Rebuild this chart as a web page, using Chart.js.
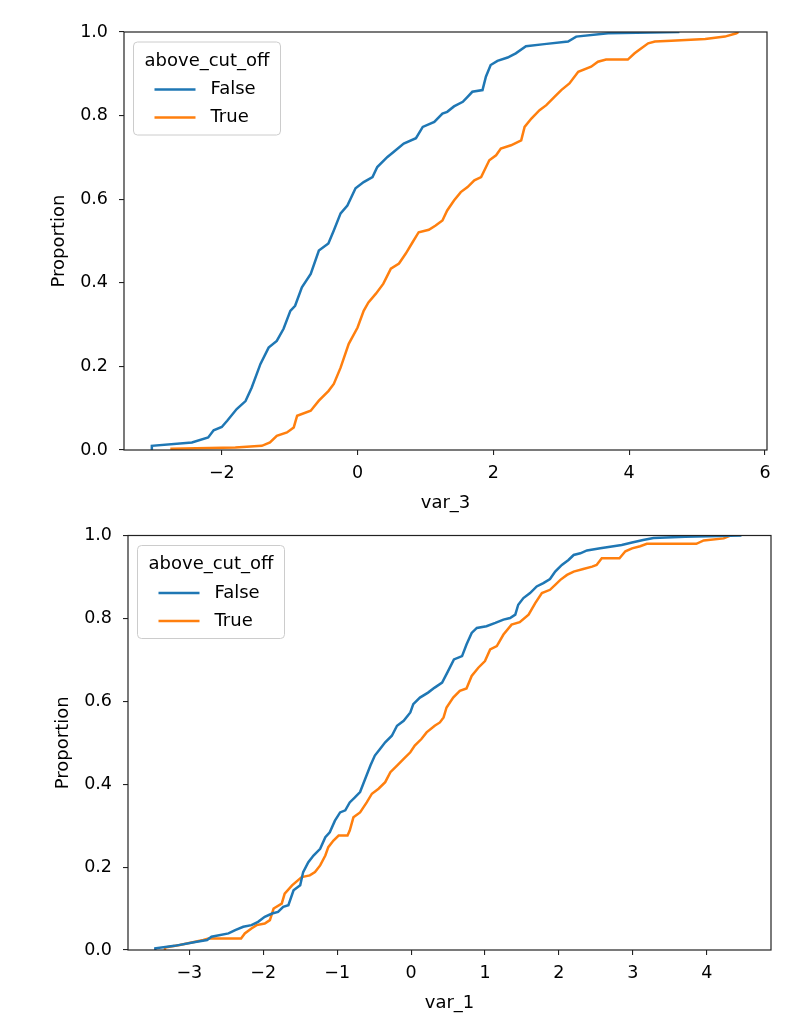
<!DOCTYPE html>
<html>
<head>
<meta charset="utf-8">
<script src="https://cdn.jsdelivr.net/npm/chart.js@4"></script>
<style>
  html, body { margin: 0; padding: 0; background: #fff; }
  #wrap { position: relative; width: 812px; height: 1020px; }
  canvas { position: absolute; left: 0; }
  #ecdfTop { top: 0; }
  #ecdfBottom { top: 514px; }
</style>
</head>
<body>
<div id="wrap">
  <canvas id="ecdfTop" width="812" height="514"></canvas>
  <canvas id="ecdfBottom" width="812" height="500"></canvas>
</div>
<script>
const hueTitle = 'above_cut_off';
const hueLabels = ['False', 'True'];
const yTicks = [0, 0.2, 0.4, 0.6, 0.8, 1.0];

// var_3 (top panel)
const var3Ticks = [-2, 0, 2, 4, 6];
const var3FalseX = [-3.03, -3.03, -2.44, -2.20, -2.12, -2.00, -1.92, -1.78, -1.65, -1.56, -1.43, -1.31, -1.19, -1.09, -0.99, -0.92, -0.82, -0.69, -0.57, -0.43, -0.35, -0.25, -0.15, -0.03, 0.09, 0.22, 0.29, 0.44, 0.53, 0.68, 0.86, 0.96, 1.13, 1.25, 1.32, 1.42, 1.55, 1.62, 1.69, 1.84, 1.89, 1.96, 2.06, 2.21, 2.33, 2.48, 2.75, 3.10, 3.22, 3.69, 4.74];
const var3FalseY = [0, 0.010, 0.018, 0.030, 0.047, 0.055, 0.070, 0.098, 0.117, 0.149, 0.206, 0.245, 0.261, 0.290, 0.333, 0.345, 0.389, 0.421, 0.477, 0.494, 0.525, 0.566, 0.585, 0.626, 0.641, 0.653, 0.677, 0.701, 0.713, 0.733, 0.746, 0.773, 0.785, 0.805, 0.809, 0.822, 0.833, 0.845, 0.857, 0.861, 0.893, 0.921, 0.931, 0.939, 0.949, 0.966, 0.971, 0.977, 0.989, 0.997, 1.0];
const var3TrueX = [-2.74, -2.74, -1.80, -1.41, -1.29, -1.19, -1.04, -0.94, -0.89, -0.69, -0.57, -0.43, -0.35, -0.25, -0.13, 0.00, 0.09, 0.16, 0.27, 0.38, 0.49, 0.61, 0.71, 0.81, 0.90, 1.05, 1.15, 1.25, 1.32, 1.42, 1.52, 1.62, 1.72, 1.82, 1.94, 2.04, 2.11, 2.26, 2.41, 2.46, 2.56, 2.68, 2.78, 2.90, 3.00, 3.12, 3.25, 3.44, 3.54, 3.66, 3.98, 4.08, 4.18, 4.28, 4.38, 4.62, 5.12, 5.41, 5.58, 5.61];
const var3TrueY = [0, 0.003, 0.006, 0.010, 0.018, 0.034, 0.042, 0.054, 0.082, 0.094, 0.118, 0.141, 0.158, 0.197, 0.254, 0.293, 0.333, 0.353, 0.374, 0.398, 0.434, 0.446, 0.470, 0.497, 0.521, 0.527, 0.537, 0.549, 0.573, 0.597, 0.617, 0.629, 0.645, 0.653, 0.693, 0.705, 0.721, 0.729, 0.741, 0.773, 0.793, 0.813, 0.825, 0.845, 0.861, 0.877, 0.905, 0.917, 0.929, 0.934, 0.934, 0.949, 0.961, 0.973, 0.977, 0.979, 0.983, 0.989, 0.997, 1.0];

// var_1 (bottom panel)
const var1Ticks = [-3, -2, -1, 0, 1, 2, 3, 4];
const var1FalseX = [-3.46, -3.46, -3.20, -2.90, -2.76, -2.70, -2.47, -2.38, -2.27, -2.16, -2.07, -1.98, -1.88, -1.80, -1.73, -1.66, -1.59, -1.50, -1.46, -1.39, -1.32, -1.23, -1.16, -1.10, -1.03, -0.96, -0.89, -0.83, -0.76, -0.69, -0.62, -0.55, -0.49, -0.42, -0.35, -0.26, -0.19, -0.10, -0.01, 0.03, 0.12, 0.23, 0.32, 0.42, 0.49, 0.58, 0.69, 0.75, 0.82, 0.89, 1.02, 1.14, 1.25, 1.34, 1.41, 1.45, 1.52, 1.61, 1.70, 1.79, 1.88, 1.95, 2.04, 2.13, 2.20, 2.29, 2.38, 2.56, 2.85, 2.99, 3.14, 3.28, 3.71, 4.47];
const var1FalseY = [0, 0.004, 0.010, 0.020, 0.024, 0.032, 0.040, 0.048, 0.056, 0.060, 0.068, 0.080, 0.088, 0.092, 0.104, 0.108, 0.144, 0.156, 0.188, 0.212, 0.228, 0.244, 0.272, 0.284, 0.312, 0.332, 0.337, 0.356, 0.368, 0.381, 0.413, 0.445, 0.469, 0.485, 0.501, 0.517, 0.541, 0.553, 0.573, 0.593, 0.609, 0.621, 0.633, 0.645, 0.669, 0.701, 0.709, 0.737, 0.765, 0.777, 0.781, 0.789, 0.797, 0.801, 0.809, 0.833, 0.849, 0.861, 0.877, 0.885, 0.895, 0.913, 0.929, 0.941, 0.953, 0.957, 0.964, 0.969, 0.977, 0.983, 0.989, 0.994, 0.997, 1.0];
const var1TrueX = [-3.33, -3.33, -3.13, -2.81, -2.74, -2.30, -2.25, -2.16, -2.09, -1.98, -1.91, -1.86, -1.75, -1.71, -1.61, -1.48, -1.37, -1.30, -1.23, -1.16, -1.12, -1.05, -0.98, -0.86, -0.83, -0.78, -0.69, -0.60, -0.53, -0.44, -0.35, -0.28, -0.19, -0.10, -0.01, 0.05, 0.14, 0.21, 0.32, 0.39, 0.44, 0.48, 0.57, 0.66, 0.75, 0.82, 0.91, 1.00, 1.07, 1.16, 1.25, 1.36, 1.47, 1.59, 1.68, 1.77, 1.88, 1.95, 2.02, 2.11, 2.20, 2.33, 2.45, 2.51, 2.58, 2.82, 2.90, 2.99, 3.10, 3.19, 3.86, 3.96, 4.23, 4.32];
const var1TrueY = [0, 0.006, 0.012, 0.024, 0.028, 0.028, 0.040, 0.052, 0.060, 0.064, 0.072, 0.100, 0.112, 0.136, 0.156, 0.176, 0.180, 0.188, 0.204, 0.228, 0.248, 0.264, 0.276, 0.276, 0.288, 0.320, 0.332, 0.356, 0.377, 0.389, 0.405, 0.429, 0.445, 0.461, 0.477, 0.493, 0.509, 0.525, 0.541, 0.549, 0.561, 0.585, 0.609, 0.625, 0.631, 0.661, 0.681, 0.697, 0.725, 0.733, 0.761, 0.785, 0.791, 0.809, 0.837, 0.861, 0.869, 0.881, 0.893, 0.905, 0.913, 0.919, 0.925, 0.929, 0.945, 0.945, 0.962, 0.969, 0.974, 0.980, 0.980, 0.988, 0.993, 1.0];

const colors = ['#1f77b4', '#ff7f0e'];

Chart.defaults.font.family = '"DejaVu Sans", sans-serif';
Chart.defaults.color = '#000';

// spines on all four sides + matplotlib-style legend inside the axes
const axesDecor = {
  id: 'axesDecor',
  afterDatasetsDraw(chart) {
    const { ctx, chartArea: a } = chart;
    ctx.save();
    ctx.strokeStyle = '#222';
    ctx.lineWidth = 1.2;
    ctx.strokeRect(a.left, a.top, a.right - a.left, a.bottom - a.top);
    ctx.restore();
  },
  afterDraw(chart) {
    const { ctx, chartArea: a } = chart;
    const bx = a.left + 9.5, by = a.top + 10, bw = 147, bh = 93;
    ctx.save();
    ctx.beginPath();
    ctx.roundRect(bx, by, bw, bh, 4);
    ctx.fillStyle = 'rgba(255,255,255,0.8)';
    ctx.fill();
    ctx.strokeStyle = '#cccccc';
    ctx.lineWidth = 1;
    ctx.stroke();
    ctx.font = '18px "DejaVu Sans"';
    ctx.fillStyle = '#000';
    ctx.textBaseline = 'middle';
    ctx.textAlign = 'center';
    ctx.fillText(hueTitle, bx + bw / 2, by + 19);
    ctx.textAlign = 'left';
    chart.data.datasets.forEach((d, i) => {
      const yy = by + 47.5 + i * 28;
      ctx.strokeStyle = d.borderColor;
      ctx.lineWidth = 2.5;
      ctx.beginPath();
      ctx.moveTo(bx + 21, yy);
      ctx.lineTo(bx + 62, yy);
      ctx.stroke();
      ctx.fillText(d.label, bx + 77, yy);
    });
    ctx.restore();
  }
};

function minusFmt(v) {
  return (v < 0 ? '\u2212' : '') + Math.abs(v);
}

function makeChart(id, xTitle, xMin, xMax, xTicks, xs, ys, pad) {
  const datasets = hueLabels.map((lab, k) => ({
    label: lab,
    data: xs[k].map((v, i) => ({ x: v, y: ys[k][i] })),
    borderColor: colors[k],
    backgroundColor: colors[k],
    borderWidth: 2.5,
    pointRadius: 0,
    tension: 0,
    fill: false
  }));
  const tickGrid = { display: true, drawOnChartArea: false, drawTicks: true, tickLength: 5, color: '#222', lineWidth: 1.1 };
  return new Chart(document.getElementById(id), {
    type: 'line',
    data: { datasets },
    options: {
      responsive: false,
      animation: false,
      layout: { padding: pad },
      plugins: { legend: { display: false }, tooltip: { enabled: false } },
      scales: {
        x: {
          type: 'linear',
          min: xMin,
          max: xMax,
          grid: tickGrid,
          border: { display: false },
          afterBuildTicks: s => { s.ticks = xTicks.map(v => ({ value: v })); },
          afterFit: s => { s.height = 64; },
          ticks: { autoSkip: false, maxRotation: 0, padding: 8, font: { size: 17.5 }, callback: minusFmt },
          title: { display: true, text: xTitle, font: { size: 18 }, padding: { top: 0, bottom: 0 } }
        },
        y: {
          type: 'linear',
          min: 0,
          max: 1,
          grid: tickGrid,
          border: { display: false },
          afterBuildTicks: s => { s.ticks = yTicks.map(v => ({ value: v })); },
          afterFit: s => { s.width = 79; },
          ticks: { autoSkip: false, padding: 11, font: { size: 17.5 }, callback: v => v.toFixed(1) },
          title: { display: true, text: 'Proportion', font: { size: 18 }, padding: { top: 3.5, bottom: 0 } }
        }
      }
    },
    plugins: [axesDecor]
  });
}

makeChart('ecdfTop', 'var_3', -3.44, 6.03, var3Ticks,
  [var3FalseX, var3TrueX], [var3FalseY, var3TrueY],
  { left: 45, top: 32, right: 45, bottom: 0 });

makeChart('ecdfBottom', 'var_1', -3.83, 4.87, var1Ticks,
  [var1FalseX, var1TrueX], [var1FalseY, var1TrueY],
  { left: 49, top: 20, right: 41, bottom: 0 });
</script>
</body>
</html>
